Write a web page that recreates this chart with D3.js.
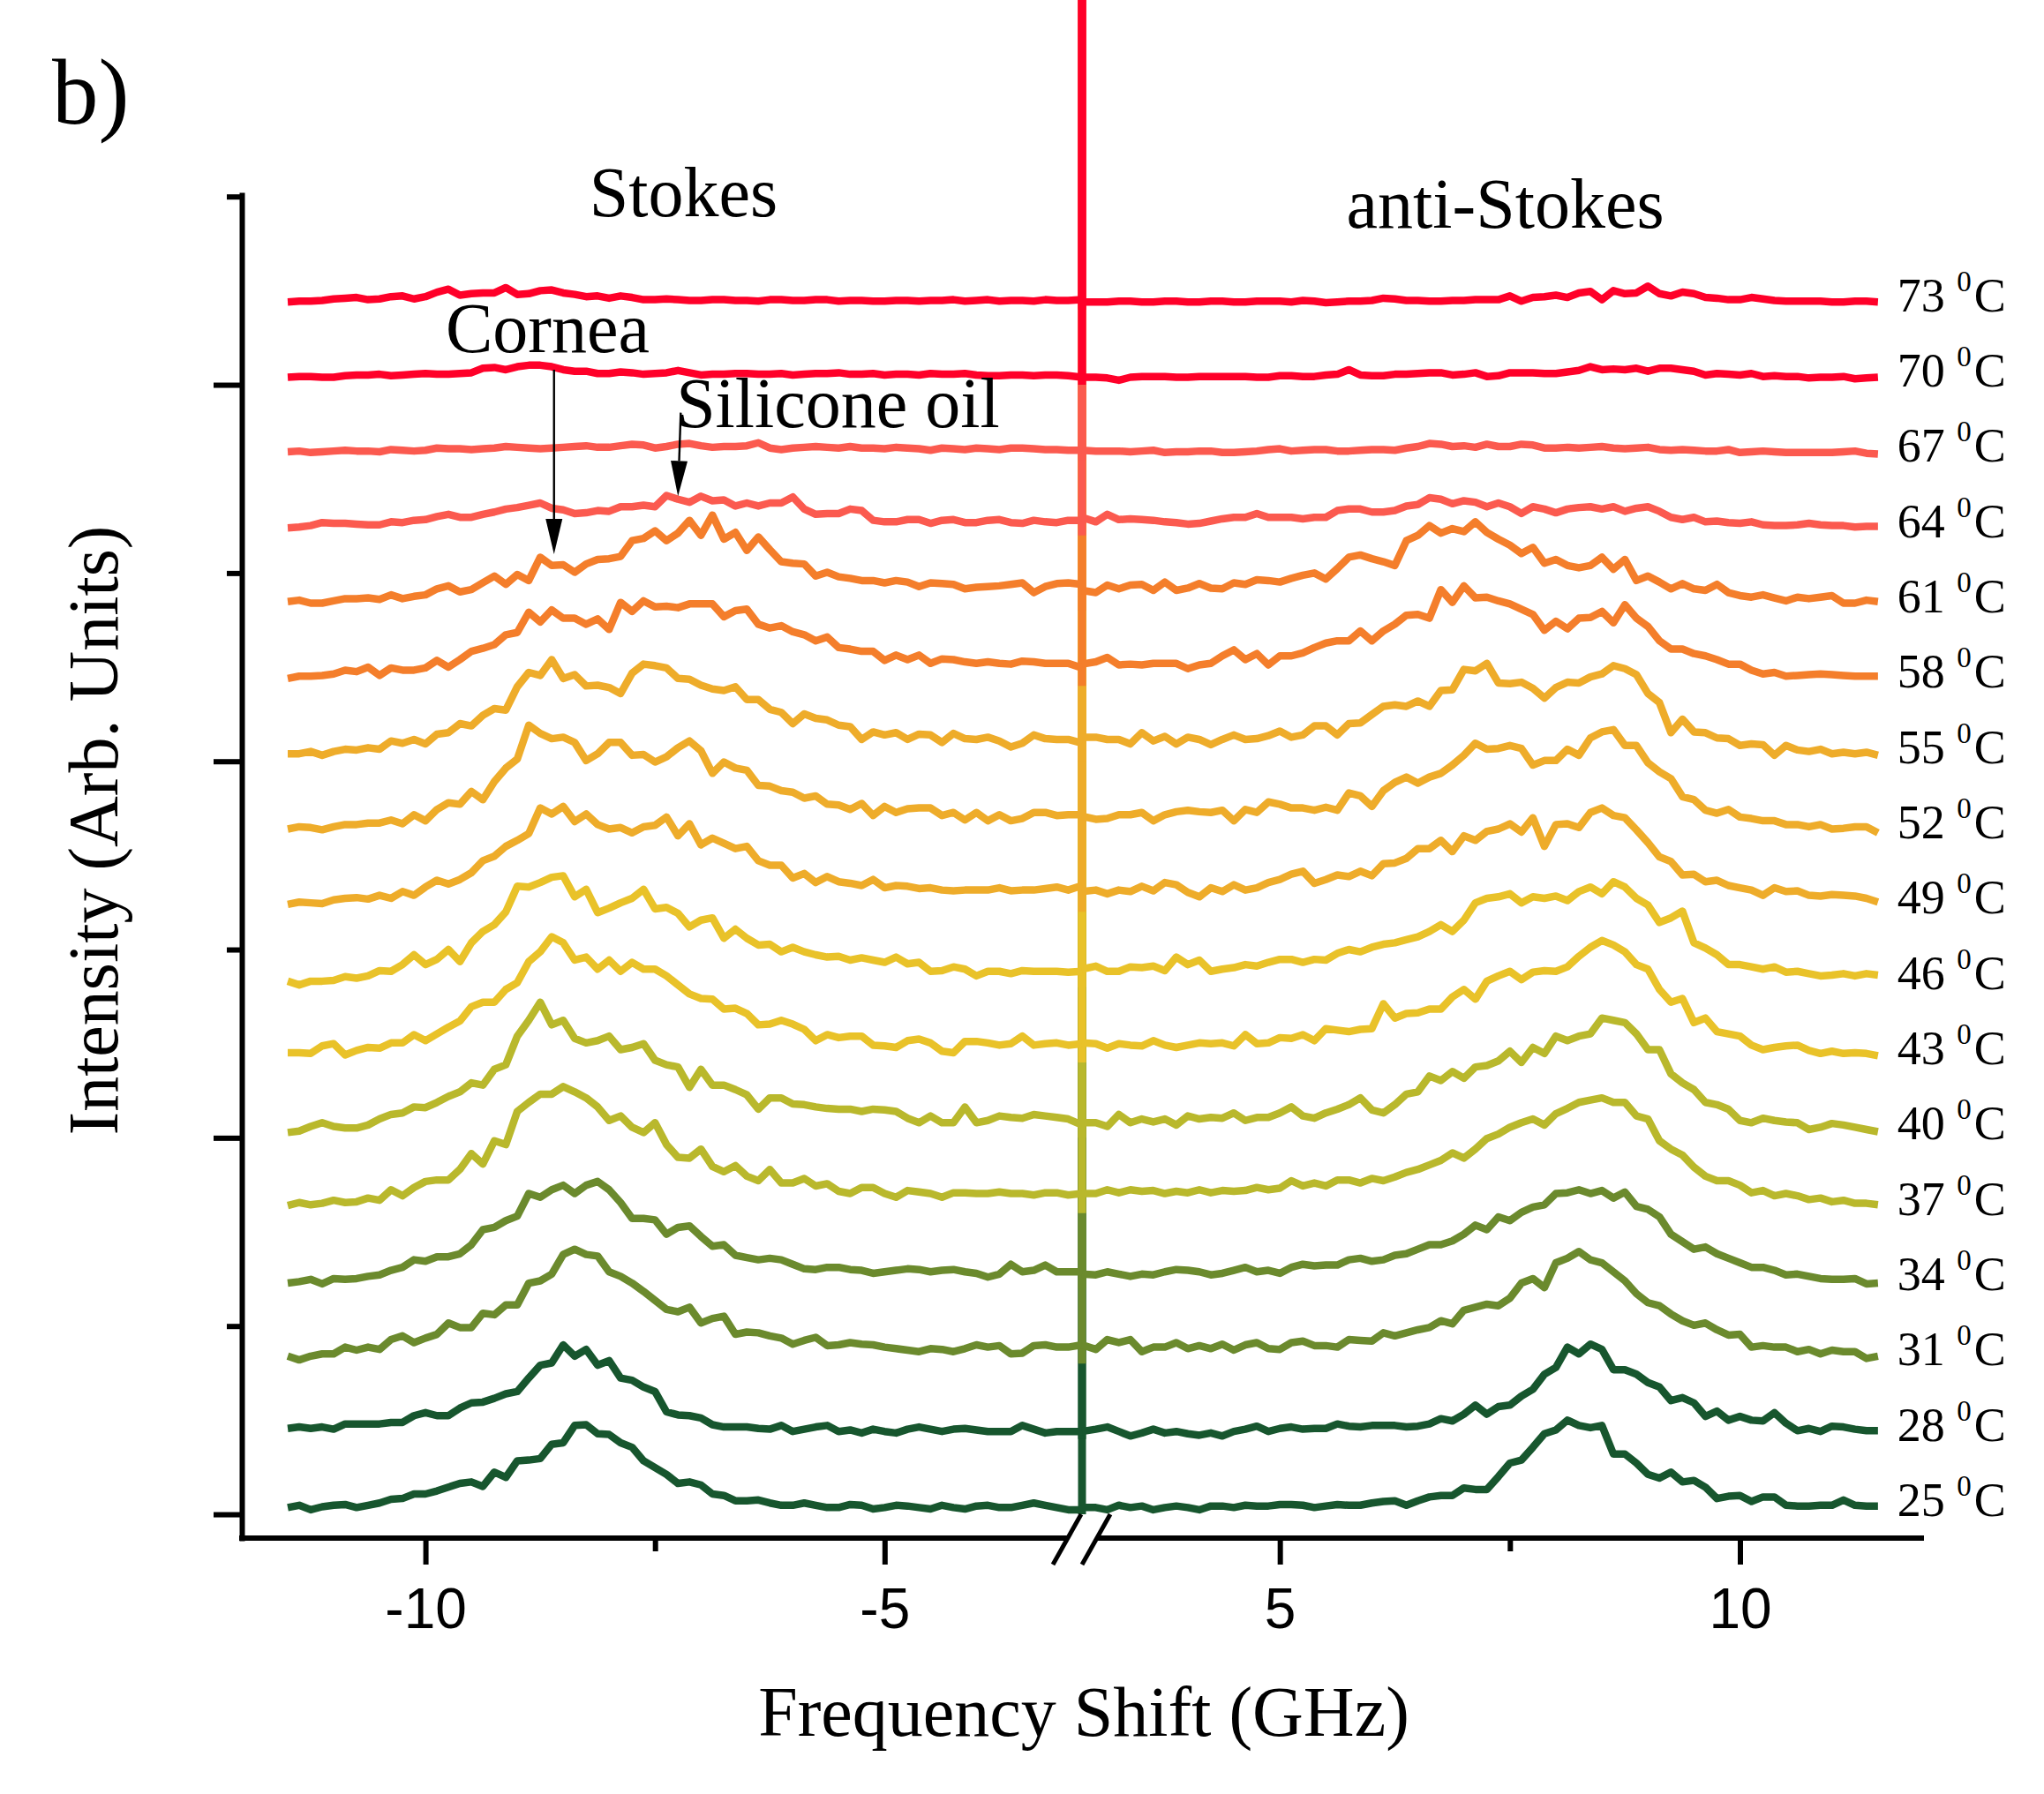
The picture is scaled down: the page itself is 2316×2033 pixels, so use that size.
<!DOCTYPE html>
<html><head><meta charset="utf-8">
<script src="https://cdn.jsdelivr.net/npm/d3@7"></script>
<style>html,body{margin:0;padding:0;background:#fff}svg{display:block}</style>
</head><body>
<script>
// ---------------- DATA ----------------
const temps = [25,28,31,34,37,40,43,46,49,52,55,58,61,64,67,70,73];
const offsets = [0,1,2,3,4,5,6,7,8,9,10,11,12,13,14,15,16];
const palette = ["#17562E","#17562E","#6B8A2D","#6B8A2D","#B9B82C","#B9B82C","#E9C229","#E9C229",
                 "#EEAC2A","#EEAC2A","#EEAC2A","#F47E2B","#F47E2B","#FB5A4F","#FB5A4F","#FF0029","#FF0029"];

// frequency grids (GHz): main grid and in-between readings
const freqLeft  = [-11.5,-11.25,-11,-10.75,-10.5,-10.25,-10,-9.75,-9.5,-9.25,-9,-8.75,-8.5,-8.25,-8,-7.75,-7.5,-7.25,-7,-6.75,-6.5,-6.25,-6,-5.75,-5.5,-5.25,-5,-4.75,-4.5,-4.25,-4,-3.75,-3.5,-3.25,-3,-2.85];
const freqRight = [2.85,3,3.25,3.5,3.75,4,4.25,4.5,4.75,5,5.25,5.5,5.75,6,6.25,6.5,6.75,7,7.25,7.5,7.75,8,8.25,8.5,8.75,9,9.25,9.5,9.75,10,10.25,10.5,10.75,11,11.25,11.5];
const freqLeftMid  = [-11.375,-11.125,-10.875,-10.625,-10.375,-10.125,-9.875,-9.625,-9.375,-9.125,-8.875,-8.625,-8.375,-8.125,-7.875,-7.625,-7.375,-7.125,-6.875,-6.625,-6.375,-6.125,-5.875,-5.625,-5.375,-5.125,-4.875,-4.625,-4.375,-4.125,-3.875,-3.625,-3.375,-3.125];
const freqRightMid = [3.125,3.375,3.625,3.875,4.125,4.375,4.625,4.875,5.125,5.375,5.625,5.875,6.125,6.375,6.625,6.875,7.125,7.375,7.625,7.875,8.125,8.375,8.625,8.875,9.125,9.375,9.625,9.875,10.125,10.375,10.625,10.875,11.125,11.375];

// Stokes side intensities on freqLeft
const s25 = [0.09,0.06,0.12,0.09,0.15,0.21,0.27,0.36,0.43,0.56,0.71,0.74,0.95,1.19,1.06,0.89,0.62,0.41,0.39,0.25,0.18,0.15,0.12,0.12,0.09,0.12,0.09,0.11,0.07,0.09,0.11,0.09,0.12,0.12,0.06,0.06];
const s28 = [0.14,0.14,0.13,0.20,0.20,0.22,0.35,0.31,0.48,0.54,0.63,0.98,1.25,1.19,1.04,0.78,0.63,0.32,0.28,0.16,0.16,0.13,0.10,0.16,0.10,0.08,0.10,0.13,0.13,0.13,0.12,0.10,0.18,0.08,0.10,0.10];
const s31 = [0.10,0.10,0.13,0.18,0.19,0.37,0.34,0.54,0.48,0.65,0.78,1.10,1.45,1.45,1.22,1.07,0.84,0.69,0.54,0.63,0.42,0.37,0.26,0.35,0.25,0.26,0.22,0.18,0.20,0.16,0.25,0.24,0.14,0.25,0.22,0.25];
const s34 = [0.07,0.12,0.13,0.13,0.18,0.28,0.36,0.42,0.58,0.81,0.96,1.21,1.37,1.37,1.31,0.93,0.91,0.81,0.69,0.58,0.41,0.40,0.32,0.25,0.28,0.24,0.22,0.26,0.22,0.25,0.20,0.19,0.22,0.31,0.22,0.22];
const s37 = [0.10,0.11,0.17,0.15,0.17,0.23,0.42,0.44,0.79,0.96,1.35,1.58,1.68,1.53,1.23,1.14,1.20,0.74,0.85,0.55,0.49,0.58,0.40,0.36,0.29,0.34,0.26,0.30,0.26,0.27,0.26,0.28,0.26,0.27,0.24,0.26];
const s40 = [0.07,0.15,0.15,0.13,0.25,0.33,0.40,0.55,0.73,0.91,1.35,1.80,1.56,1.26,1.35,1.20,1.03,0.94,0.91,0.70,0.57,0.53,0.45,0.41,0.38,0.35,0.37,0.26,0.29,0.20,0.20,0.29,0.26,0.29,0.25,0.17];
const s43 = [0.13,0.12,0.25,0.16,0.19,0.26,0.29,0.47,0.74,0.80,1.06,1.47,1.59,1.40,1.36,1.33,1.24,1.03,0.85,0.71,0.65,0.51,0.51,0.29,0.33,0.35,0.22,0.29,0.26,0.13,0.28,0.23,0.35,0.25,0.23,0.25];
const s46 = [0.08,0.08,0.09,0.12,0.22,0.30,0.30,0.50,0.59,0.83,1.34,1.39,1.48,1.30,1.05,1.18,1.04,0.98,0.89,0.65,0.65,0.57,0.53,0.43,0.41,0.39,0.33,0.31,0.21,0.27,0.15,0.21,0.22,0.21,0.20,0.21];
const s49 = [0.10,0.12,0.16,0.19,0.22,0.27,0.33,0.37,0.52,0.74,0.95,1.38,1.40,1.30,1.10,1.05,1.15,1.01,0.89,0.91,0.87,0.62,0.45,0.39,0.40,0.35,0.32,0.34,0.32,0.28,0.29,0.32,0.29,0.31,0.29,0.35];
const s52 = [0.10,0.12,0.13,0.16,0.18,0.17,0.21,0.45,0.60,0.73,1.03,1.37,1.32,1.01,1.25,1.08,0.99,1.18,1.14,0.99,0.88,0.67,0.59,0.54,0.42,0.44,0.40,0.37,0.38,0.32,0.32,0.29,0.24,0.32,0.29,0.29];
const s55 = [0.10,0.13,0.13,0.15,0.16,0.24,0.23,0.38,0.47,0.70,0.99,1.14,1.10,1.00,0.98,1.17,1.27,1.10,1.01,0.94,0.82,0.69,0.50,0.57,0.48,0.29,0.35,0.29,0.35,0.37,0.29,0.27,0.24,0.30,0.29,0.24];
const s58 = [0.10,0.13,0.16,0.19,0.14,0.21,0.24,0.25,0.46,0.55,0.71,0.85,0.90,0.82,0.75,0.99,1.05,1.04,1.09,0.92,1.02,0.77,0.72,0.60,0.51,0.46,0.34,0.35,0.30,0.35,0.30,0.30,0.33,0.30,0.30,0.24];
const s61 = [0.12,0.10,0.13,0.16,0.15,0.16,0.21,0.33,0.28,0.46,0.48,0.71,0.61,0.62,0.69,0.93,1.06,1.03,1.00,0.95,0.80,0.81,0.63,0.46,0.45,0.40,0.37,0.38,0.37,0.35,0.31,0.33,0.37,0.32,0.37,0.35];
const s64 = [0.10,0.13,0.16,0.15,0.14,0.17,0.21,0.28,0.24,0.31,0.37,0.43,0.34,0.30,0.32,0.38,0.38,0.48,0.52,0.47,0.43,0.43,0.51,0.28,0.29,0.33,0.18,0.21,0.16,0.21,0.17,0.21,0.16,0.18,0.20,0.20];
const s67 = [0.11,0.10,0.12,0.12,0.11,0.13,0.13,0.15,0.14,0.16,0.17,0.15,0.17,0.19,0.17,0.21,0.16,0.21,0.19,0.18,0.19,0.16,0.16,0.18,0.16,0.16,0.15,0.16,0.13,0.15,0.16,0.14,0.16,0.14,0.13,0.13];
const s70 = [0.10,0.11,0.10,0.13,0.14,0.13,0.15,0.14,0.16,0.23,0.24,0.26,0.20,0.18,0.15,0.16,0.15,0.19,0.13,0.14,0.15,0.14,0.13,0.15,0.16,0.14,0.13,0.14,0.15,0.14,0.13,0.12,0.13,0.13,0.12,0.10];
const s73 = [0.10,0.11,0.14,0.16,0.14,0.18,0.17,0.27,0.21,0.22,0.20,0.25,0.22,0.17,0.15,0.16,0.13,0.13,0.12,0.13,0.12,0.13,0.12,0.13,0.11,0.12,0.11,0.12,0.12,0.13,0.12,0.11,0.12,0.13,0.12,0.13];

// Stokes side intensities on freqLeftMid
const sm25 = [0.12,0.10,0.13,0.12,0.20,0.27,0.31,0.41,0.37,0.49,0.72,0.93,1.18,1.07,0.95,0.71,0.53,0.43,0.27,0.18,0.19,0.12,0.15,0.09,0.13,0.07,0.12,0.09,0.12,0.07,0.12,0.09,0.15,0.09];
const sm28 = [0.16,0.16,0.20,0.20,0.22,0.31,0.31,0.41,0.49,0.60,0.81,1.01,1.10,0.98,0.81,0.69,0.36,0.31,0.19,0.16,0.14,0.18,0.13,0.18,0.12,0.13,0.08,0.16,0.10,0.14,0.10,0.10,0.13,0.10];
const sm31 = [0.05,0.13,0.22,0.22,0.32,0.28,0.39,0.48,0.67,0.78,1.07,1.19,1.52,1.43,1.16,0.96,0.72,0.75,0.60,0.39,0.41,0.34,0.31,0.24,0.28,0.25,0.20,0.16,0.19,0.20,0.22,0.13,0.24,0.22];
const sm34 = [0.09,0.06,0.12,0.16,0.24,0.38,0.42,0.46,0.78,0.90,1.26,1.31,1.26,1.42,1.14,0.93,0.72,0.83,0.56,0.44,0.38,0.38,0.26,0.28,0.25,0.20,0.24,0.25,0.24,0.22,0.15,0.32,0.24,0.22];
const sm37 = [0.14,0.13,0.14,0.20,0.31,0.34,0.44,0.58,0.65,0.91,1.47,1.58,1.61,1.41,1.29,1.07,0.91,0.73,0.62,0.63,0.43,0.40,0.46,0.39,0.26,0.34,0.21,0.28,0.21,0.27,0.26,0.26,0.24,0.27];
const sm40 = [0.09,0.20,0.13,0.17,0.31,0.41,0.47,0.61,0.70,0.97,1.56,1.50,1.32,1.29,1.17,1.25,0.97,0.67,0.70,0.64,0.38,0.53,0.44,0.39,0.38,0.38,0.35,0.20,0.20,0.41,0.23,0.27,0.31,0.27];
const sm43 = [0.13,0.22,0.10,0.20,0.26,0.37,0.38,0.55,0.80,0.97,1.34,1.67,1.36,1.24,1.21,1.24,1.15,0.91,0.84,0.72,0.50,0.56,0.44,0.37,0.35,0.23,0.20,0.31,0.15,0.28,0.26,0.25,0.23,0.26];
const sm46 = [0.03,0.08,0.14,0.15,0.21,0.43,0.37,0.34,0.74,1.00,1.33,1.46,1.20,0.99,1.12,1.30,1.06,0.80,0.92,0.77,0.56,0.47,0.47,0.40,0.36,0.36,0.40,0.33,0.22,0.24,0.21,0.18,0.21,0.21];
const sm49 = [0.13,0.11,0.18,0.17,0.18,0.22,0.42,0.43,0.68,0.87,1.04,1.30,1.20,1.16,1.12,1.13,1.26,1.17,0.98,0.84,0.68,0.62,0.51,0.47,0.38,0.43,0.35,0.31,0.29,0.29,0.29,0.28,0.29,0.33];
const sm52 = [0.13,0.09,0.16,0.18,0.22,0.29,0.36,0.43,0.49,0.91,1.48,1.30,1.25,1.10,1.25,1.09,1.06,1.27,0.84,0.91,0.68,0.61,0.51,0.43,0.36,0.28,0.32,0.38,0.28,0.22,0.21,0.21,0.32,0.28];
const sm55 = [0.10,0.08,0.16,0.18,0.27,0.29,0.36,0.50,0.61,0.68,1.18,1.35,1.15,1.01,0.90,1.29,1.24,1.09,0.96,0.99,0.82,0.65,0.63,0.55,0.46,0.39,0.38,0.36,0.25,0.30,0.32,0.19,0.35,0.29];
const sm58 = [0.13,0.14,0.21,0.25,0.24,0.21,0.34,0.35,0.50,0.68,0.98,1.01,0.90,0.89,1.11,1.13,1.06,1.09,1.09,1.00,0.82,0.80,0.68,0.65,0.49,0.46,0.41,0.41,0.36,0.32,0.32,0.29,0.32,0.30];
const sm61 = [0.14,0.10,0.16,0.17,0.21,0.19,0.29,0.25,0.37,0.35,0.40,0.60,0.51,0.68,0.72,0.96,0.93,1.20,1.27,1.04,0.98,0.65,0.62,0.51,0.43,0.40,0.40,0.32,0.36,0.29,0.32,0.35,0.24,0.36];
const sm64 = [0.11,0.17,0.16,0.14,0.18,0.20,0.25,0.24,0.28,0.35,0.40,0.36,0.29,0.33,0.38,0.40,0.53,0.44,0.46,0.39,0.39,0.43,0.35,0.29,0.35,0.20,0.18,0.21,0.20,0.17,0.20,0.17,0.20,0.17];
const sm67 = [0.12,0.11,0.13,0.12,0.14,0.12,0.16,0.15,0.15,0.18,0.16,0.16,0.18,0.17,0.19,0.20,0.18,0.22,0.17,0.18,0.23,0.14,0.17,0.17,0.18,0.16,0.17,0.15,0.16,0.14,0.15,0.16,0.15,0.14];
const sm70 = [0.11,0.10,0.12,0.13,0.12,0.14,0.14,0.15,0.22,0.20,0.26,0.24,0.18,0.15,0.17,0.14,0.16,0.16,0.14,0.15,0.14,0.15,0.14,0.15,0.14,0.15,0.14,0.13,0.14,0.15,0.12,0.13,0.12,0.13];
const sm73 = [0.11,0.12,0.15,0.13,0.17,0.14,0.23,0.19,0.22,0.29,0.21,0.26,0.20,0.18,0.18,0.13,0.14,0.12,0.13,0.12,0.11,0.13,0.12,0.13,0.12,0.11,0.12,0.11,0.12,0.11,0.13,0.12,0.11,0.12];

// anti-Stokes side intensities on freqRight
const a25 = [0.09,0.09,0.12,0.11,0.09,0.09,0.11,0.09,0.11,0.13,0.12,0.11,0.12,0.15,0.18,0.18,0.25,0.35,0.33,0.68,0.89,1.12,1.18,1.18,0.80,0.53,0.56,0.45,0.21,0.25,0.23,0.12,0.11,0.12,0.12,0.11];
const a28 = [0.10,0.13,0.10,0.08,0.08,0.07,0.08,0.10,0.17,0.14,0.13,0.14,0.17,0.18,0.18,0.17,0.27,0.33,0.33,0.45,0.66,0.95,1.13,1.19,0.92,0.75,0.51,0.48,0.37,0.30,0.24,0.21,0.14,0.17,0.13,0.11];
const a31 = [0.25,0.19,0.28,0.16,0.22,0.20,0.20,0.18,0.28,0.19,0.30,0.24,0.32,0.30,0.37,0.45,0.57,0.71,0.79,0.87,1.13,1.34,1.49,1.34,1.10,0.81,0.66,0.51,0.45,0.39,0.24,0.22,0.19,0.18,0.16,0.10];
const a34 = [0.19,0.18,0.19,0.19,0.22,0.24,0.18,0.24,0.22,0.20,0.32,0.31,0.38,0.36,0.44,0.52,0.58,0.72,0.78,0.90,1.08,1.26,1.31,1.30,1.28,1.05,0.72,0.52,0.46,0.34,0.28,0.18,0.16,0.12,0.13,0.07];
const a37 = [0.26,0.26,0.27,0.29,0.26,0.27,0.27,0.29,0.34,0.33,0.36,0.36,0.44,0.46,0.48,0.58,0.70,0.73,0.99,1.14,1.25,1.32,1.47,1.53,1.47,1.25,0.85,0.61,0.43,0.37,0.30,0.26,0.18,0.15,0.13,0.11];
const a40 = [0.20,0.20,0.31,0.25,0.25,0.29,0.27,0.33,0.27,0.33,0.29,0.33,0.44,0.37,0.44,0.61,0.76,0.79,0.96,1.15,1.20,1.35,1.35,1.59,1.53,1.17,0.85,0.64,0.44,0.23,0.26,0.21,0.11,0.19,0.14,0.08];
const a43 = [0.26,0.25,0.25,0.22,0.23,0.23,0.25,0.22,0.25,0.33,0.37,0.45,0.41,0.45,0.59,0.66,0.71,0.97,1.08,1.21,1.20,1.21,1.41,1.62,1.47,1.24,0.80,0.53,0.41,0.35,0.17,0.22,0.16,0.15,0.13,0.09];
const a46 = [0.24,0.28,0.21,0.26,0.22,0.30,0.21,0.26,0.28,0.37,0.33,0.36,0.50,0.53,0.59,0.67,0.83,0.89,1.18,1.24,1.20,1.21,1.27,1.24,1.33,1.09,0.92,0.59,0.43,0.30,0.24,0.20,0.18,0.16,0.15,0.16];
const a49 = [0.27,0.29,0.29,0.34,0.39,0.26,0.32,0.36,0.32,0.43,0.54,0.43,0.47,0.48,0.65,0.84,0.95,1.01,1.07,1.17,1.25,1.16,1.12,1.38,1.25,0.92,0.67,0.50,0.42,0.32,0.22,0.27,0.22,0.23,0.21,0.13];
const a52 = [0.27,0.23,0.29,0.32,0.29,0.35,0.32,0.21,0.32,0.43,0.38,0.39,0.58,0.40,0.72,0.71,0.84,1.08,1.16,1.21,0.95,1.01,1.08,1.39,1.21,0.98,0.77,0.49,0.31,0.26,0.21,0.16,0.13,0.10,0.13,0.05];
const a55 = [0.32,0.32,0.29,0.38,0.33,0.32,0.22,0.35,0.30,0.40,0.35,0.47,0.50,0.62,0.75,0.80,0.94,1.22,1.30,1.03,0.97,0.98,1.04,1.16,1.23,0.90,0.38,0.39,0.31,0.21,0.22,0.21,0.13,0.10,0.10,0.08];
const a58 = [0.29,0.32,0.28,0.28,0.30,0.23,0.30,0.48,0.43,0.40,0.44,0.57,0.60,0.60,0.82,0.95,1.28,1.33,1.18,1.09,0.95,0.86,0.90,0.99,1.08,0.79,0.49,0.43,0.35,0.29,0.16,0.13,0.15,0.15,0.13,0.13];
const a61 = [0.27,0.24,0.29,0.35,0.38,0.30,0.30,0.37,0.41,0.38,0.47,0.42,0.71,0.69,0.60,1.00,1.03,1.05,1.04,0.87,0.84,0.68,0.57,0.71,0.68,0.46,0.29,0.29,0.35,0.20,0.21,0.13,0.16,0.20,0.10,0.12];
const a64 = [0.24,0.18,0.21,0.21,0.18,0.15,0.19,0.24,0.29,0.24,0.22,0.24,0.35,0.31,0.33,0.41,0.48,0.46,0.38,0.38,0.38,0.30,0.37,0.35,0.32,0.38,0.24,0.24,0.19,0.16,0.14,0.13,0.16,0.13,0.11,0.12];
const a67 = [0.13,0.12,0.12,0.12,0.10,0.11,0.12,0.10,0.12,0.15,0.13,0.14,0.12,0.14,0.13,0.18,0.21,0.19,0.21,0.18,0.20,0.16,0.16,0.18,0.15,0.17,0.13,0.13,0.12,0.10,0.12,0.10,0.10,0.10,0.12,0.08];
const a70 = [0.10,0.10,0.06,0.11,0.11,0.10,0.11,0.11,0.10,0.12,0.11,0.13,0.20,0.12,0.14,0.15,0.16,0.14,0.11,0.16,0.16,0.15,0.19,0.20,0.20,0.18,0.22,0.18,0.15,0.13,0.11,0.11,0.09,0.10,0.08,0.10];
const a73 = [0.10,0.10,0.11,0.10,0.11,0.10,0.11,0.10,0.11,0.11,0.12,0.09,0.11,0.12,0.14,0.12,0.11,0.12,0.13,0.18,0.16,0.19,0.22,0.13,0.21,0.31,0.18,0.21,0.15,0.13,0.14,0.11,0.11,0.10,0.11,0.10];

// anti-Stokes side intensities on freqRightMid
const am25 = [0.06,0.09,0.06,0.11,0.06,0.11,0.12,0.11,0.13,0.09,0.13,0.12,0.17,0.12,0.23,0.25,0.33,0.50,0.72,1.07,1.25,1.15,0.80,0.68,0.48,0.43,0.36,0.24,0.17,0.23,0.11,0.12,0.19,0.11];
const am28 = [0.16,0.04,0.13,0.10,0.05,0.04,0.13,0.10,0.16,0.14,0.20,0.16,0.18,0.16,0.20,0.24,0.45,0.43,0.57,0.86,1.22,1.26,0.92,0.86,0.69,0.55,0.30,0.25,0.25,0.35,0.11,0.10,0.16,0.11];
const am31 = [0.32,0.32,0.22,0.28,0.24,0.26,0.25,0.20,0.28,0.24,0.22,0.31,0.41,0.41,0.48,0.53,0.75,0.77,1.07,1.01,1.40,1.38,1.22,0.93,0.77,0.57,0.54,0.38,0.22,0.22,0.16,0.13,0.16,0.07];
const am34 = [0.22,0.16,0.18,0.25,0.22,0.20,0.28,0.24,0.28,0.30,0.31,0.40,0.38,0.46,0.58,0.63,0.84,0.95,1.01,1.11,1.27,1.26,1.20,1.09,0.95,0.62,0.55,0.40,0.28,0.24,0.19,0.13,0.12,0.06];
const am37 = [0.31,0.31,0.30,0.29,0.31,0.30,0.30,0.31,0.43,0.40,0.44,0.40,0.43,0.54,0.64,0.80,0.85,1.05,1.20,1.17,1.39,1.50,1.47,1.29,0.96,0.77,0.49,0.43,0.27,0.23,0.23,0.20,0.17,0.13];
const am40 = [0.15,0.20,0.21,0.17,0.25,0.26,0.23,0.27,0.41,0.26,0.38,0.53,0.33,0.58,0.82,0.88,0.94,1.02,1.00,1.12,1.29,1.38,1.56,1.38,1.17,0.73,0.47,0.38,0.20,0.23,0.20,0.14,0.17,0.11];
const am43 = [0.19,0.23,0.29,0.20,0.26,0.26,0.37,0.26,0.32,0.29,0.43,0.44,0.78,0.65,0.71,0.87,0.84,1.15,1.10,1.22,1.27,1.53,1.56,1.30,0.97,0.85,0.59,0.38,0.23,0.20,0.23,0.12,0.12,0.12];
const am46 = [0.21,0.27,0.28,0.40,0.36,0.24,0.30,0.33,0.37,0.37,0.45,0.47,0.57,0.63,0.74,0.74,1.12,1.20,1.12,1.18,1.15,1.33,1.40,1.18,0.86,1.01,0.52,0.30,0.27,0.27,0.21,0.15,0.18,0.18];
const am49 = [0.24,0.27,0.28,0.36,0.20,0.27,0.29,0.39,0.50,0.38,0.49,0.54,0.64,0.71,0.84,0.80,0.95,1.10,1.06,0.87,1.17,1.32,1.28,1.09,0.73,0.49,0.40,0.35,0.29,0.32,0.28,0.21,0.22,0.18];
const am52 = [0.24,0.29,0.21,0.33,0.33,0.35,0.36,0.46,0.38,0.35,0.35,0.54,0.61,0.79,0.79,0.95,1.24,1.17,1.17,1.01,1.16,1.31,1.42,1.21,0.86,0.53,0.35,0.36,0.24,0.21,0.16,0.16,0.11,0.13];
const am55 = [0.29,0.23,0.27,0.23,0.29,0.29,0.29,0.34,0.32,0.47,0.35,0.51,0.73,0.73,0.73,0.95,1.20,1.04,1.05,0.84,1.05,1.12,1.27,1.15,0.78,0.56,0.38,0.30,0.23,0.08,0.15,0.16,0.12,0.12];
const am58 = [0.38,0.29,0.30,0.30,0.28,0.40,0.35,0.28,0.40,0.51,0.60,0.73,0.73,0.94,0.90,1.11,1.17,1.13,1.02,0.74,0.76,0.91,0.84,0.90,0.60,0.49,0.40,0.29,0.21,0.18,0.14,0.16,0.14,0.13];
const am61 = [0.34,0.34,0.27,0.27,0.36,0.29,0.35,0.40,0.43,0.50,0.56,0.74,0.65,0.93,1.13,1.09,1.18,0.95,0.76,0.63,0.60,0.60,0.55,0.40,0.38,0.36,0.27,0.24,0.18,0.17,0.18,0.18,0.10,0.14];
const am64 = [0.28,0.22,0.20,0.17,0.16,0.22,0.24,0.24,0.24,0.24,0.33,0.35,0.31,0.39,0.50,0.42,0.44,0.43,0.29,0.35,0.35,0.38,0.38,0.36,0.32,0.21,0.18,0.17,0.18,0.13,0.14,0.14,0.13,0.12];
const am67 = [0.12,0.11,0.13,0.11,0.12,0.10,0.11,0.14,0.12,0.14,0.12,0.13,0.14,0.16,0.22,0.18,0.17,0.18,0.21,0.16,0.17,0.17,0.16,0.16,0.14,0.14,0.12,0.14,0.11,0.11,0.10,0.10,0.11,0.09];
const am70 = [0.09,0.10,0.11,0.10,0.11,0.11,0.11,0.10,0.12,0.11,0.14,0.13,0.12,0.14,0.16,0.13,0.16,0.12,0.16,0.15,0.17,0.24,0.21,0.22,0.22,0.20,0.13,0.14,0.15,0.12,0.11,0.10,0.11,0.09];
const am73 = [0.10,0.11,0.10,0.11,0.10,0.11,0.10,0.11,0.10,0.11,0.10,0.11,0.15,0.12,0.11,0.12,0.13,0.13,0.11,0.17,0.16,0.24,0.25,0.22,0.21,0.23,0.16,0.13,0.16,0.12,0.11,0.11,0.10,0.11];

const stokesSeries    = [s25,s28,s31,s34,s37,s40,s43,s46,s49,s52,s55,s58,s61,s64,s67,s70,s73];
const stokesMidSeries = [sm25,sm28,sm31,sm34,sm37,sm40,sm43,sm46,sm49,sm52,sm55,sm58,sm61,sm64,sm67,sm70,sm73];
const antiSeries      = [a25,a28,a31,a34,a37,a40,a43,a46,a49,a52,a55,a58,a61,a64,a67,a70,a73];
const antiMidSeries   = [am25,am28,am31,am34,am37,am40,am43,am46,am49,am52,am55,am58,am61,am64,am67,am70,am73];

// central (clipped Rayleigh) region of every spectrum: floor and clipped top
const centerFloor = 0;
const rayleighTop = 30;

const yTicks = [0,2.5,5,7.5,10,12.5,15,17.5];
const xTicksLeft = [-10,-7.5,-5];
const xTicksRight = [5,7.5,10];
const xDomainLeft = [-12,-2.85];
const xDomainRight = [2.85,12];
const yDomain = [-0.316,17.52];

// ---------------- DRAW ----------------
const W = 2316, H = 2033;
const serif = "'Liberation Serif','Times New Roman',Times,serif";
const sans = "'Liberation Sans',Arial,Helvetica,sans-serif";

const svg = d3.select("body").append("svg").attr("width", W).attr("height", H)
  .attr("viewBox", `0 0 ${W} ${H}`);
svg.append("rect").attr("width", W).attr("height", H).attr("fill", "#fff");

const xL = d3.scaleLinear().domain(xDomainLeft).range([274, 1226]);
const xR = d3.scaleLinear().domain(xDomainRight).range([1226, 2180]);
const y = d3.scaleLinear().domain(yDomain).range([1743, 221]);
const axisY = y.range()[0];
const breakX = xL(xDomainLeft[1]);

function mergePoints(f1, v1, f2, v2) {
  const pts = f1.map((f, j) => [f, v1[j]]).concat(f2.map((f, j) => [f, v2[j]]));
  return pts.sort((a, b) => a[0] - b[0]);
}

// spectra (low temperature first)
const plot = svg.append("g");
temps.forEach((t, i) => {
  const g = plot.append("g");
  const col = palette[i];
  g.append("line")
    .attr("x1", breakX).attr("x2", breakX)
    .attr("y1", y(offsets[i] + centerFloor)).attr("y2", y(offsets[i] + rayleighTop))
    .attr("stroke", col).attr("stroke-width", 9);
  const ptsL = mergePoints(freqLeft, stokesSeries[i], freqLeftMid, stokesMidSeries[i]);
  const ptsR = mergePoints(freqRight, antiSeries[i], freqRightMid, antiMidSeries[i]);
  const lineL = d3.line().x(d => xL(d[0])).y(d => y(offsets[i] + d[1]));
  const lineR = d3.line().x(d => xR(d[0])).y(d => y(offsets[i] + d[1]));
  g.append("path").attr("d", lineL(ptsL)).attr("fill", "none")
    .attr("stroke", col).attr("stroke-width", 8.5).attr("stroke-linejoin", "round");
  g.append("path").attr("d", lineR(ptsR)).attr("fill", "none")
    .attr("stroke", col).attr("stroke-width", 8.5).attr("stroke-linejoin", "round");

  // temperature label
  const lab = svg.append("text")
    .attr("x", xR(freqRight[freqRight.length - 1]) + 22)
    .attr("y", y(offsets[i]) + 2)
    .attr("font-family", serif).attr("font-size", 54).attr("fill", "#000");
  lab.append("tspan").text(t + " ");
  lab.append("tspan").attr("font-size", 33).attr("dy", -23).text("0");
  lab.append("tspan").attr("dy", 23).attr("dx", 3).text("C");
});

// y axis
const yAxis = svg.append("g").attr("transform", `translate(274,0)`)
  .call(d3.axisLeft(y).tickValues(yTicks).tickFormat("").tickSizeOuter(0));
yAxis.select(".domain").attr("stroke-width", 6).attr("stroke-linecap", "square");
yAxis.selectAll(".tick line")
  .attr("x2", d => (d % 5 === 0 ? -32 : -17)).attr("stroke-width", 6);

// x axes (two segments with a break)
function styleX(g, dom0, dom1) {
  g.select(".domain").attr("d", `M${dom0},0H${dom1}`).attr("stroke-width", 6);
  g.selectAll(".tick line").attr("y2", d => (d % 5 === 0 ? 30 : 15)).attr("stroke-width", 6);
  g.selectAll(".tick text").attr("y", 102).attr("dy", 0)
    .attr("font-family", sans).attr("font-size", 64).attr("fill", "#000");
}
const gxL = svg.append("g").attr("transform", `translate(0,${axisY})`)
  .call(d3.axisBottom(xL).tickValues(xTicksLeft).tickFormat(d => (d % 5 === 0 ? String(d) : "")).tickSizeOuter(0));
styleX(gxL, xL.range()[0] - 3, breakX - 17);
const gxR = svg.append("g").attr("transform", `translate(0,${axisY})`)
  .call(d3.axisBottom(xR).tickValues(xTicksRight).tickFormat(d => (d % 5 === 0 ? String(d) : "")).tickSizeOuter(0));
styleX(gxR, breakX + 16, xR.range()[1]);

// break marks
[-17, 16].forEach(dx => {
  svg.append("line")
    .attr("x1", breakX + dx - 16).attr("y1", axisY + 30)
    .attr("x2", breakX + dx + 16).attr("y2", axisY - 27)
    .attr("stroke", "#000").attr("stroke-width", 5);
});

// titles
svg.append("text").attr("x", 1228).attr("y", 1967).attr("text-anchor", "middle")
  .attr("font-family", serif).attr("font-size", 80).text("Frequency Shift (GHz)");
svg.append("text").attr("transform", "translate(133,941) rotate(-90)").attr("text-anchor", "middle")
  .attr("font-family", serif).attr("font-size", 80).text("Intensity (Arb. Units)");
svg.append("text").attr("x", 59).attr("y", 140)
  .attr("font-family", serif).attr("font-size", 105).text("b)");
svg.append("text").attr("x", xL(-7.19)).attr("y", y(17.24)).attr("text-anchor", "middle")
  .attr("font-family", serif).attr("font-size", 80).text("Stokes");
svg.append("text").attr("x", xR(7.45)).attr("y", y(17.09)).attr("text-anchor", "middle")
  .attr("font-family", serif).attr("font-size", 80).text("anti-Stokes");
svg.append("text").attr("x", xL(-9.78)).attr("y", y(15.43))
  .attr("font-family", serif).attr("font-size", 80).text("Cornea");
svg.append("text").attr("x", xL(-7.27)).attr("y", y(14.44))
  .attr("font-family", serif).attr("font-size", 80).text("Silicone oil");

// annotation arrows
function arrow(x1, y1, x2, y2) {
  const L = 40, Wd = 19;
  const ang = Math.atan2(y2 - y1, x2 - x1);
  const bx = x2 - L * Math.cos(ang), by = y2 - L * Math.sin(ang);
  const px = -Math.sin(ang) * Wd / 2, py = Math.cos(ang) * Wd / 2;
  svg.append("line").attr("x1", x1).attr("y1", y1).attr("x2", bx).attr("y2", by)
    .attr("stroke", "#000").attr("stroke-width", 2.4);
  svg.append("path").attr("d", `M${x2},${y2}L${bx + px},${by + py}L${bx - px},${by - py}Z`).attr("fill", "#000");
}
arrow(xL(-8.6), y(15.2), xL(-8.6), y(12.75));
arrow(xL(-7.22), y(14.63), xL(-7.25), y(13.52));
</script>
</body></html>
